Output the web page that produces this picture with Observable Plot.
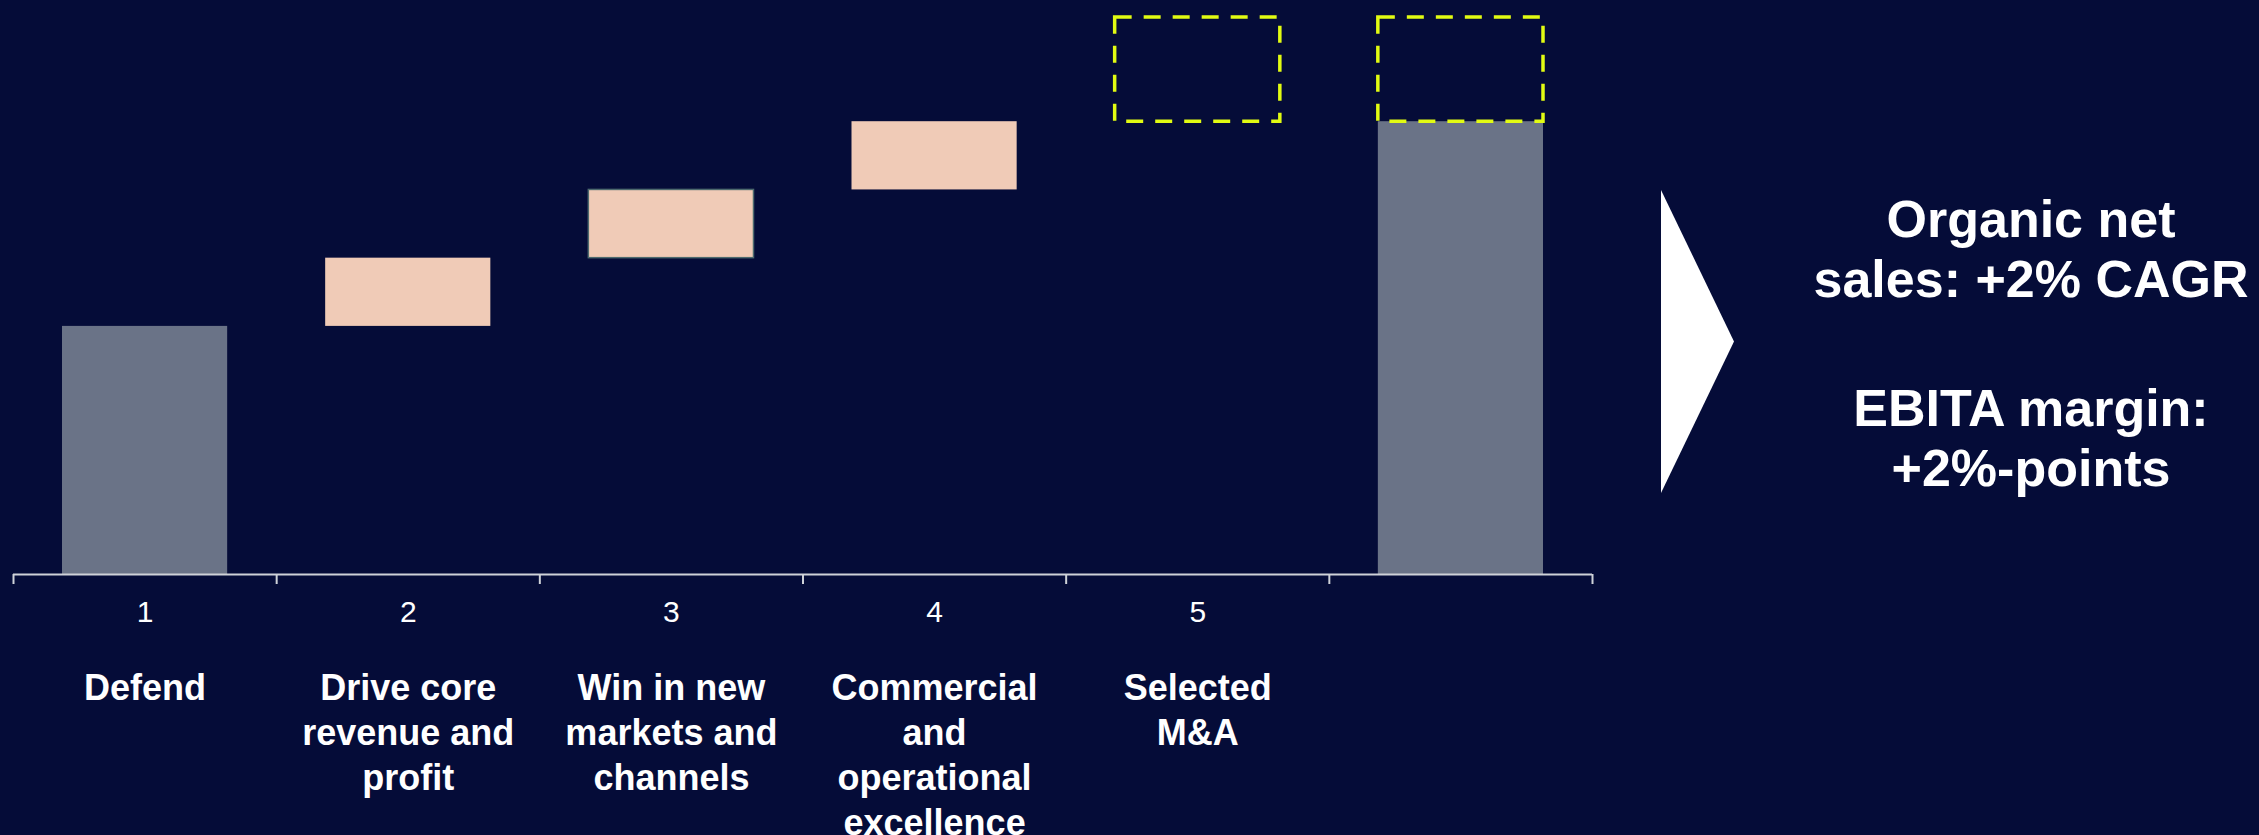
<!DOCTYPE html>
<html>
<head>
<meta charset="utf-8">
<script src="https://cdn.jsdelivr.net/npm/d3@7"></script>
<script src="https://cdn.jsdelivr.net/npm/@observablehq/plot@0.6"></script>
<style>
  html, body { margin: 0; padding: 0; background: #050c38; overflow: hidden; }
  #wrap { position: relative; width: 2259px; height: 835px; background: #050c38; }
  #arrow { position: absolute; left: 1661px; top: 190px; width: 73px; height: 303px; background: #ffffff;
           clip-path: polygon(0 0, 100% 50%, 0 100%); }
  #note { position: absolute; left: 1781px; top: 189px; width: 500px; text-align: center; color: #ffffff;
          font-family: "Liberation Sans", Arial, sans-serif; font-weight: bold; font-size: 52px; line-height: 60px; }
  #note p { margin: 0; }
  #note p + p { margin-top: 69px; }
</style>
</head>
<body>
<div id="wrap">
  <div id="chart"></div>
  <div id="arrow"></div>
  <div id="note"><p>Organic net<br>sales: +2% CAGR</p><p>EBITA margin:<br>+2%-points</p></div>
</div>
<script>
// ---- data ----
const tickLabels = ["1", "2", "3", "4", "5", ""];
const categories = [
  "Defend",
  "Drive core\nrevenue and\nprofit",
  "Win in new\nmarkets and\nchannels",
  "Commercial\nand\noperational\nexcellence",
  "Selected\nM&A",
  ""
];
const startValue = 100;              // starting bar (grey)
const increments = [27.5, 27.5, 27.5]; // levers 2-4 (solid steps)
const maIncrement = 42;              // lever 5, potential (dashed)

// ---- derived rows ----
const endValue = startValue + d3.sum(increments);
const greyBars = [
  {i: 0, y1: 0, y2: startValue},
  {i: 5, y1: 0, y2: endValue}
];
let acc = startValue;
const stepBars = increments.map((v, k) => {
  const r = {i: k + 1, y1: acc, y2: acc + v, outlined: k === 1};
  acc += v;
  return r;
});
const dashedBars = [
  {i: 4, y1: endValue, y2: endValue + maIncrement},
  {i: 5, y1: endValue, y2: endValue + maIncrement}
];
const slots = categories.map((c, i) => ({i, label: c, num: tickLabels[i]}));

const inset = 49;
const chart = Plot.plot({
  width: 2259,
  height: 835,
  marginLeft: 13,
  marginRight: 667,
  marginTop: 17,
  marginBottom: 261,
  style: {background: "transparent", color: "#ffffff", fontFamily: "Liberation Sans, Arial, sans-serif", overflow: "visible"},
  x: {type: "linear", domain: [0, categories.length], axis: null},
  y: {domain: [0, endValue + maIncrement], axis: null},
  marks: [
    Plot.rect(greyBars, {x1: d => d.i, x2: d => d.i + 1, y1: "y1", y2: "y2", insetLeft: inset, insetRight: inset, fill: "#6a7387"}),
    Plot.rect(stepBars, {x1: d => d.i, x2: d => d.i + 1, y1: "y1", y2: "y2", insetLeft: inset, insetRight: inset, fill: "#f0cbb7",
      stroke: d => d.outlined ? "#4d6a6e" : "none", strokeWidth: 1.5}),
    Plot.rect(dashedBars, {x1: d => d.i, x2: d => d.i + 1, y1: "y1", y2: "y2", insetLeft: inset, insetRight: inset, fill: "none",
      stroke: "#e2fb12", strokeWidth: 3.5, strokeDasharray: "17,12"}),
    Plot.ruleY([0], {stroke: "#cfd2d8", strokeWidth: 2}),
    Plot.axisX({ticks: d3.range(categories.length + 1), tickSize: 10, tickFormat: () => "", stroke: "#cfd2d8", strokeWidth: 2, strokeOpacity: 1}),
    Plot.text(slots, {x: d => d.i + 0.5, text: "num", frameAnchor: "bottom", lineAnchor: "middle", dy: 38, fontSize: 30, fill: "#ffffff"}),
    Plot.text(slots, {x: d => d.i + 0.5, text: "label", frameAnchor: "bottom", lineAnchor: "top", dy: 94, fontSize: 36, fontWeight: "bold", lineHeight: 1.25, fill: "#ffffff"})
  ]
});
document.getElementById("chart").appendChild(chart);
</script>
</body>
</html>
